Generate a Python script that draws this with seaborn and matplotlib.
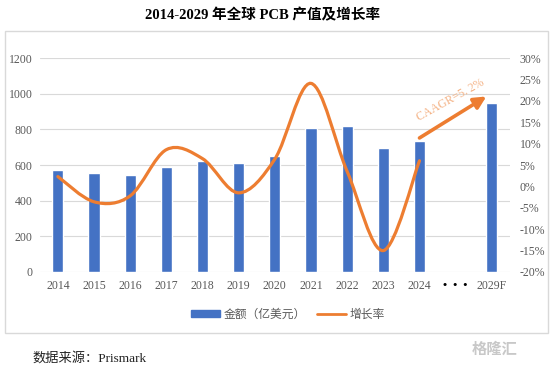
import numpy as np
import pandas as pd
import matplotlib
matplotlib.use("Agg")
import matplotlib.pyplot as plt
from matplotlib.path import Path
from matplotlib.patches import PathPatch, Rectangle, Patch
from matplotlib.lines import Line2D
import seaborn as sns

# categories shown on the x axis (the dots slot stays empty)
years = ["2014", "2015", "2016", "2017", "2018", "2019", "2020", "2021",
         "2022", "2023", "2024", "•  •  •", "2029F"]
bar_years = ["2014", "2015", "2016", "2017", "2018", "2019", "2020", "2021",
             "2022", "2023", "2024", "2029F"]
amount = [574, 553, 542, 588, 624, 613, 652, 809, 817, 695, 736, 946]  # 亿美元
growth_years = years[:11]
growth = [2.3, -3.6, -2.2, 8.6, 6.5, -1.5, 6.4, 24.1, 3.5, -15.0, 6.0]  # %

left_ticks = [0, 200, 400, 600, 800, 1000, 1200]
right_ticks = [-20, -15, -10, -5, 0, 5, 10, 15, 20, 25, 30]

BLUE = "#4472C4"
ORANGE = "#ED7D31"
GREY = "#595959"

sns.set_theme(style="white")
plt.rcParams["font.family"] = ["Liberation Serif", "Noto Sans CJK SC"]

fig = plt.figure(figsize=(5.53, 3.68), dpi=100)
ax = fig.add_axes([0.072, 0.261, 0.85, 0.581])

df = pd.DataFrame({"year": bar_years, "amount": amount})
sns.barplot(data=df, x="year", y="amount", order=years, color=BLUE,
            saturation=1, width=0.31, ax=ax)
ax.set_ylim(0, 1200)
ax.set_yticks(left_ticks)
ax.set_xlim(-0.5, len(years) - 0.5)
ax.set_xlabel("")
ax.set_ylabel("")
ax.yaxis.grid(True, color="#D9D9D9", lw=0.8)
ax.set_axisbelow(True)
ax.tick_params(axis="y", length=0, labelsize=8.5, colors=GREY, pad=5)
ax.tick_params(axis="x", length=0, labelsize=8.5, colors=GREY, pad=6)
for lbl in ax.get_xticklabels():
    if lbl.get_text().startswith("•"):
        lbl.set_color("black")
        lbl.set_fontweight("bold")
for s in ax.spines.values():
    s.set_visible(False)

# growth rate on the right axis, drawn as a smoothed (bezier) line
ax2 = ax.twinx()
ax2.set_ylim(-20, 30)
ax2.set_yticks(right_ticks)
ax2.set_yticklabels([f"{v}%" for v in right_ticks])
ax2.tick_params(axis="y", length=0, labelsize=8.5, colors=GREY, pad=7)
for s in ax2.spines.values():
    s.set_visible(False)

pts = np.array([[years.index(y), g] for y, g in zip(growth_years, growth)], dtype=float)
n = len(pts)
verts = [pts[0]]
codes = [Path.MOVETO]
for i in range(n - 1):
    prev = pts[i - 1] if i > 0 else pts[i]
    nxt = pts[i + 2] if i + 2 < n else pts[i + 1]
    c1 = pts[i] + (pts[i + 1] - prev) / 6
    c2 = pts[i + 1] - (nxt - pts[i]) / 6
    verts += [c1, c2, pts[i + 1]]
    codes += [Path.CURVE4] * 3
ax2.add_patch(PathPatch(Path(verts, codes), facecolor="none", edgecolor=ORANGE,
                        lw=2.3, capstyle="round"))

# CAGR arrow
ax.annotate("", xy=(11.85, 985), xytext=(10.0, 752),
            arrowprops=dict(arrowstyle="-|>", color=ORANGE, lw=2.6,
                            mutation_scale=18, shrinkA=0, shrinkB=0))
ax.text(10.85, 965, "CAAGR=5. 2%", rotation=29, color="#F4B183", fontsize=8.5,
        ha="center", va="center", rotation_mode="anchor")

# title, frame, legend, source
fig.text(0.474, 1 - 15 / 368, "2014-2029 年全球 PCB 产值及增长率", ha="center",
         va="center", fontsize=10.5, fontweight="bold", color="black")
fig.add_artist(Rectangle((5 / 553, 0.095), 543 / 553, 0.821,
                         transform=fig.transFigure, fill=False,
                         edgecolor="#D9D9D9", lw=1))
handles = [Patch(facecolor=BLUE, edgecolor=BLUE),
           Line2D([0], [0], color=ORANGE, lw=2)]
fig.legend(handles, ["金额（亿美元）", "增长率"], loc="center",
           bbox_to_anchor=(288 / 553, 1 - 315 / 368), ncol=2, frameon=False,
           fontsize=8.5, handlelength=2.4, handleheight=0.5, columnspacing=1.0,
           handletextpad=0.3, labelcolor=GREY)
fig.text(32 / 553, 1 - 358 / 368, "数据来源：Prismark", ha="left", va="center",
         fontsize=9.5, color="#222222")
fig.text(517 / 553, 1 - 350 / 368, "格隆汇", ha="right", va="center",
         fontsize=11, color="#C8C8C8", fontweight="bold")

fig.savefig("out.png", dpi=100)
